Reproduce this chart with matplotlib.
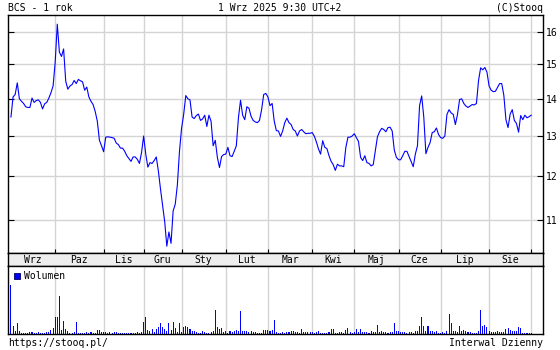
import numpy as np
import matplotlib.pyplot as plt
from matplotlib.patches import Rectangle
from matplotlib.ticker import NullLocator

# BCS daily close, one list per month (trading days only)
price_sep24 = [13.50, 14.05, 14.12, 14.45, 14.00, 13.93, 13.87, 13.78, 13.76, 13.76, 14.02,
               13.90, 13.95, 13.97, 13.90, 13.72, 13.86, 13.90, 14.02, 14.17, 14.36]
price_oct24 = [15.05, 16.24, 15.36, 15.23, 15.46, 14.50, 14.27, 14.36, 14.40, 14.52, 14.43,
               14.55, 14.51, 14.48, 14.24, 14.33, 14.05, 13.93, 13.84, 13.65, 13.39, 12.89, 12.75]
price_nov24 = [12.60, 12.97, 12.98, 12.97, 12.96, 12.94, 12.82, 12.78, 12.69, 12.69, 12.61,
               12.50, 12.43, 12.36, 12.47, 12.47, 12.41, 12.31, 12.58]
price_dec24 = [13.00, 12.54, 12.22, 12.33, 12.31, 12.38, 12.47, 12.12, 11.70, 11.33, 10.96,
               10.44, 10.74, 10.50, 11.20, 11.35, 11.79, 12.60]
price_jan25 = [13.20, 13.57, 14.09, 14.00, 13.97, 13.50, 13.46, 13.54, 13.58, 13.41, 13.45,
               13.55, 13.25, 13.55, 13.39, 12.75, 12.89, 12.46, 12.21, 12.48, 12.53]
price_feb25 = [12.54, 12.71, 12.50, 12.48, 12.61, 12.75, 13.48, 13.96, 13.55, 13.43, 13.78,
               13.74, 13.52, 13.41, 13.37, 13.35, 13.41, 13.70, 14.12, 14.15]
price_mar25 = [14.05, 13.81, 13.87, 13.39, 13.14, 13.13, 12.99, 13.13, 13.35, 13.47, 13.35,
               13.30, 13.17, 13.13, 13.00, 13.13, 13.17, 13.11, 13.06, 13.07, 13.07]
price_apr25 = [13.09, 13.00, 12.85, 12.67, 12.54, 12.88, 12.71, 12.68, 12.50, 12.36, 12.28,
               12.14, 12.29, 12.25, 12.25, 12.23, 12.71, 12.97, 12.97, 13.00]
price_may25 = [13.06, 12.96, 12.86, 12.46, 12.38, 12.50, 12.33, 12.31, 12.25, 12.28, 12.63,
               12.98, 13.11, 13.20, 13.17, 13.11, 13.22, 13.23, 13.13, 12.64, 12.46]
price_jun25 = [12.40, 12.40, 12.50, 12.61, 12.61, 12.48, 12.35, 12.23, 12.54, 12.75, 13.81,
               14.08, 13.50, 12.55, 12.71, 12.83, 13.09, 13.11, 13.21, 13.04]
price_jul25 = [12.96, 12.94, 13.00, 13.57, 13.70, 13.61, 13.57, 13.30, 13.57, 13.98, 14.00,
               13.87, 13.80, 13.76, 13.80, 13.84, 13.83, 13.87, 14.52, 14.89, 14.83, 14.90, 14.76]
price_aug25 = [14.36, 14.24, 14.20, 14.21, 14.32, 14.43, 14.43, 14.10, 13.43, 13.22, 13.58,
               13.70, 13.41, 13.33, 13.10, 13.54, 13.43, 13.55, 13.48, 13.51]
price_sep25 = [13.55]

# volume, thousand shares
vol_sep24 = [14.5, 2.5, 1.0, 3.2, 0.8, 0.2, 0.2, 0.3, 0.4, 0.5, 0.6, 0.4, 0.3, 0.7, 0.2,
             0.4, 0.4, 0.6, 0.5, 1.2, 1.7]
vol_oct24 = [5.2, 5.2, 11.2, 1.3, 3.8, 1.5, 1.0, 0.4, 0.4, 0.6, 3.5, 0.4, 0.4, 0.4, 0.4,
             0.7, 0.4, 0.7, 0.3, 0.3, 1.3, 1.3, 0.5]
vol_nov24 = [0.6, 0.6, 0.4, 0.6, 0.4, 0.5, 0.5, 0.2, 0.4, 0.4, 0.3, 0.3, 0.3, 0.4, 0.4,
             0.3, 0.5, 0.3, 0.5]
vol_dec24 = [3.5, 5.0, 1.3, 1.0, 1.5, 0.7, 1.5, 2.0, 3.2, 2.0, 1.5, 1.0, 3.2, 1.2, 3.5,
             1.8, 0.5, 3.2]
vol_jan25 = [0.5, 2.2, 2.5, 2.2, 1.5, 1.0, 1.0, 0.5, 0.4, 0.4, 1.0, 0.5, 0.4, 0.4, 0.5,
             0.8, 7.2, 2.2, 1.4, 1.8, 0.5]
vol_feb25 = [1.0, 0.4, 0.8, 0.6, 0.8, 1.2, 1.0, 7.0, 0.8, 0.8, 1.0, 0.5, 0.8, 0.6, 0.6,
             0.4, 0.4, 0.4, 1.2, 1.2]
vol_mar25 = [1.2, 0.8, 1.2, 4.3, 0.7, 0.3, 0.4, 0.5, 0.4, 0.7, 0.6, 0.8, 0.8, 0.6, 0.5,
             0.4, 1.5, 0.5, 0.6, 0.5, 0.6]
vol_apr25 = [0.5, 0.4, 0.5, 1.0, 0.3, 0.4, 0.3, 0.4, 0.5, 1.5, 1.5, 0.3, 0.4, 0.6, 0.5,
             0.3, 1.2, 1.8, 0.6, 0.4]
vol_may25 = [0.6, 1.5, 0.5, 1.5, 0.5, 0.6, 0.5, 0.4, 0.8, 0.6, 0.5, 2.8, 0.5, 0.8, 0.6,
             0.5, 0.4, 0.5, 0.6, 3.2, 0.8]
vol_jun25 = [0.8, 0.6, 0.5, 0.5, 0.4, 0.5, 0.6, 0.4, 0.8, 1.0, 2.5, 5.2, 2.5, 0.8, 2.5,
             0.8, 1.0, 0.7, 0.8, 0.3]
vol_jul25 = [0.3, 0.5, 0.4, 0.8, 6.0, 3.2, 0.8, 1.0, 0.6, 2.5, 0.8, 1.2, 1.0, 0.6, 0.6,
             0.4, 0.4, 0.3, 0.8, 7.3, 2.5, 2.8, 2.0]
vol_aug25 = [0.8, 0.5, 0.5, 0.5, 0.8, 0.5, 0.5, 0.5, 1.5, 1.8, 1.2, 1.0, 0.8, 1.0, 2.0,
             1.8, 0.3, 0.3, 0.3, 0.3]
vol_sep25 = [0.3]

months = ['Wrz', 'Paz', 'Lis', 'Gru', 'Sty', 'Lut', 'Mar', 'Kwi', 'Maj', 'Cze', 'Lip', 'Sie']
price_ticks = [11, 12, 13, 14, 15, 16]

price_parts = [price_sep24, price_oct24, price_nov24, price_dec24, price_jan25, price_feb25,
               price_mar25, price_apr25, price_may25, price_jun25, price_jul25, price_aug25,
               price_sep25]
vol_parts = [vol_sep24, vol_oct24, vol_nov24, vol_dec24, vol_jan25, vol_feb25, vol_mar25,
             vol_apr25, vol_may25, vol_jun25, vol_jul25, vol_aug25, vol_sep25]

price = np.concatenate(price_parts)
vol = np.concatenate(vol_parts)
x = np.arange(len(price))
month_start = np.cumsum([0] + [len(p) for p in price_parts])[:-1]

FONT = 'DejaVu Sans Mono'
FS = 7
BLUE = '#0000ff'
GRID = '#d4d4d4'
XLIM = (-1.4, 252.6)

W, H = 560, 350
fig = plt.figure(figsize=(W / 100, H / 100), dpi=100)


def box(l, t, r, b):
    return [l / W, 1 - b / H, (r - l) / W, (b - t) / H]


ax = fig.add_axes(box(8, 15, 543, 253))
band = fig.add_axes(box(8, 253, 543, 266))
axv = fig.add_axes(box(8, 266, 543, 334))

# price panel
ax.plot(x, price, color=BLUE, lw=0.8)
ax.set_yscale('log')
ax.set_ylim(10.30, 16.54)
ax.set_xlim(*XLIM)
ax.set_yticks(price_ticks)
ax.set_yticklabels([str(t) for t in price_ticks], fontfamily=FONT, fontsize=FS)
ax.yaxis.set_minor_locator(NullLocator())
ax.set_xticks(month_start[1:])
ax.tick_params(axis='y', direction='in', length=4, width=0.8, left=True, right=True,
               labelleft=False, labelright=True, pad=2)
ax.tick_params(axis='x', direction='in', length=3, width=0.8, top=False, labelbottom=False)
ax.grid(True, color=GRID, lw=1)
ax.set_axisbelow(True)

# month band
band.set_facecolor('#eeeeee')
band.set_xlim(*XLIM)
band.set_ylim(0, 1)
band.set_xticks([])
band.set_yticks([])
ends = list(month_start[1:])
for name, a, b in zip(months, month_start[:-1], ends):
    band.text((a + b) / 2, 0.22, name, ha='center', va='baseline',
              fontfamily=FONT, fontsize=FS)

# volume panel
axv.bar(x, vol, width=0.5, color=BLUE, lw=0)
axv.set_xlim(*XLIM)
axv.set_ylim(0, 20.3)
axv.set_xticks(month_start[1:])
axv.set_yticks([])
axv.tick_params(axis='x', length=0, labelbottom=False)
axv.grid(True, axis='x', color=GRID, lw=1)
axv.set_axisbelow(True)

for a in (ax, band, axv):
    for s in a.spines.values():
        s.set_linewidth(1.0)

fig.add_artist(Rectangle((14 / W, 1 - 279 / H), 6 / W, 6 / H, transform=fig.transFigure,
                         facecolor=BLUE, edgecolor='#000066', lw=0.6))
fig.text(24 / W, 1 - 279 / H, 'Wolumen', fontfamily=FONT, fontsize=FS, va='baseline')

# header and footer
fig.text(8 / W, 1 - 10.7 / H, 'BCS - 1 rok', fontfamily=FONT, fontsize=FS, va='baseline')
fig.text(280 / W, 1 - 10.7 / H, '1 Wrz 2025 9:30 UTC+2', fontfamily=FONT, fontsize=FS,
         ha='center', va='baseline')
fig.text(543 / W, 1 - 10.7 / H, '(C)Stooq', fontfamily=FONT, fontsize=FS, ha='right',
         va='baseline')
fig.text(8 / W, 1 - 346.5 / H, 'https://stooq.pl/', fontfamily=FONT, fontsize=FS,
         va='baseline')
fig.text(543 / W, 1 - 346.5 / H, 'Interwal Dzienny', fontfamily=FONT, fontsize=FS,
         ha='right', va='baseline')

fig.savefig('out.png', dpi=100, facecolor='white')
